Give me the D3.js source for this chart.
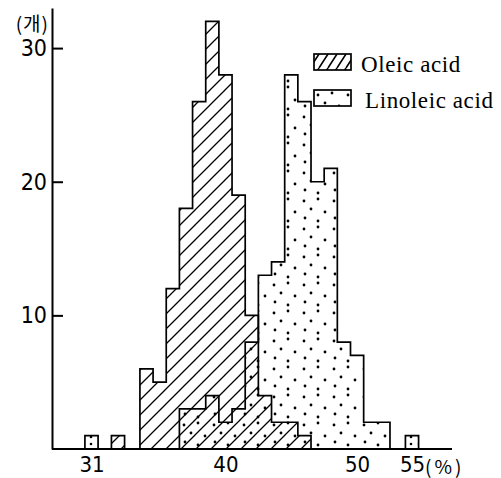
<!DOCTYPE html>
<html>
<head>
<meta charset="utf-8">
<script src="https://cdn.jsdelivr.net/npm/d3@7"></script>
<style>
  body { margin: 0; background: #fff; }
  svg { display: block; }
</style>
</head>
<body>
<script>
(function(){

  //pseudo-global variables
  //oleic acid histogram: bin centre (%) and number of samples
  var oleicBins = [34, 35, 36, 37, 38, 39, 40, 41, 42, 43, 44, 45, 46];
  var oleicCounts = [6, 5, 12, 18, 26, 32, 28, 19, 10, 4, 2, 2, 1];
  var oleicOutBins = [32]; //lone sample left of the main group
  var oleicOutCounts = [1];

  //linoleic acid histogram
  var linoleicBins = [37, 38, 39, 40, 41, 42, 43, 44, 45, 46, 47, 48, 49, 50, 51, 52];
  var linoleicCounts = [3, 3, 4, 2, 3, 8, 13, 14, 28, 26, 20, 21, 8, 7, 2, 2];
  var linoleicOutBins = [31, 55];
  var linoleicOutCounts = [1, 1];

  var xTicks = [31, 40, 50, 55]; //tick labels on the broken % axis
  var yTicks = [10, 20, 30];
  var seriesNames = ["Oleic acid", "Linoleic acid"];

  window.onload = setChart(); //begin script when window loads

  function setChart(){
    var width = 501,
        height = 478,
        left = 52, //y axis position
        right = 452, //end of baseline
        top = 8,
        bottom = 449;

    var svg = d3.select("body")
      .append("svg")
      .attr("width", width)
      .attr("height", height);

    //x axis is broken at both ends, so use a piecewise linear scale
    var x = d3.scaleLinear()
      .domain([31, 32, 34, 52, 55])
      .range([91.5, 118, 146.5, 383.4, 412]);

    var y = d3.scaleLinear()
      .domain([0, 33])
      .range([bottom, top]);

    var bw = x(35) - x(34); //width of one 1% bin

    makePatterns(svg);

    //build a stepped outline for a run of adjacent bins
    function stepPath(bins, counts){
      var p = d3.path();
      p.moveTo(x(bins[0]) - bw / 2, y(0));
      bins.forEach(function(b, i){
        p.lineTo(x(b) - bw / 2, y(counts[i]));
        p.lineTo(x(b) + bw / 2, y(counts[i]));
      });
      p.lineTo(x(bins[bins.length - 1]) + bw / 2, y(0));
      p.closePath();
      return p.toString();
    };

    var shapes = [
      {bins: oleicBins, counts: oleicCounts, fill: "url(#hatch)"},
      {bins: oleicOutBins, counts: oleicOutCounts, fill: "url(#hatch)"}
    ];
    linoleicOutBins.forEach(function(b, i){
      shapes.push({bins: [b], counts: [linoleicOutCounts[i]], fill: "url(#dotsSmall)"});
    });
    shapes.push({bins: linoleicBins, counts: linoleicCounts, fill: "url(#dots)"});

    //pattern fills first, outlines on top so both stay visible where they overlap
    svg.selectAll(".fill")
      .data(shapes)
      .enter()
      .append("path")
      .attr("class", "fill")
      .attr("d", function(d){ return stepPath(d.bins, d.counts); })
      .style("fill", function(d){ return d.fill; })
      .style("stroke", "none");

    svg.selectAll(".outline")
      .data(shapes)
      .enter()
      .append("path")
      .attr("class", "outline")
      .attr("d", function(d){ return stepPath(d.bins, d.counts); })
      .style("fill", "none")
      .style("stroke", "#000")
      .style("stroke-width", 1.7)
      .style("stroke-linejoin", "miter");

    //baseline
    svg.append("line")
      .attr("x1", left)
      .attr("x2", right)
      .attr("y1", y(0))
      .attr("y2", y(0))
      .style("stroke", "#000")
      .style("stroke-width", 2);

    //y axis, ticks pointing into the plot
    var yAxis = d3.axisLeft(y)
      .tickValues(yTicks)
      .tickSize(-11)
      .tickSizeOuter(0)
      .tickPadding(5);

    var gy = svg.append("g")
      .attr("transform", "translate(" + left + ",0)")
      .call(yAxis);
    gy.select(".domain").style("stroke-width", 2);
    gy.selectAll(".tick line").style("stroke-width", 2);
    gy.selectAll("text")
      .style("font-family", "'Liberation Sans Narrow', 'DejaVu Sans Condensed', sans-serif")
      .style("font-size", "23px")
      .style("fill", "#000");

    //x axis labels only, no ticks
    var xAxis = d3.axisBottom(x)
      .tickValues(xTicks)
      .tickSize(0)
      .tickPadding(7);

    var gx = svg.append("g")
      .attr("transform", "translate(0," + y(0) + ")")
      .call(xAxis);
    gx.select(".domain").remove();
    gx.selectAll("text")
      .style("font-family", "'Liberation Sans Narrow', 'DejaVu Sans Condensed', sans-serif")
      .style("font-size", "22px")
      .style("fill", "#000");

    //units
    svg.append("text")
      .attr("x", x(55) + 13)
      .attr("y", y(0) + 25)
      .style("font-family", "'Noto Sans CJK KR', sans-serif")
      .style("font-size", "19px")
      .style("letter-spacing", "3px")
      .text("(%)");

    svg.append("text")
      .attr("x", 49)
      .attr("y", 31)
      .attr("text-anchor", "end")
      .style("font-family", "'Noto Sans CJK KR', sans-serif")
      .style("font-size", "19px")
      .style("letter-spacing", "1px")
      .text("(개)");

    setLegend(svg);
  };

  //hatched and dotted fills
  function makePatterns(svg){
    var defs = svg.append("defs");

    var hatch = defs.append("pattern")
      .attr("id", "hatch")
      .attr("patternUnits", "userSpaceOnUse")
      .attr("width", 15)
      .attr("height", 15);
    hatch.append("path")
      .attr("d", "M-4,4 L4,-4 M0,15 L15,0 M11,19 L19,11")
      .style("stroke", "#000")
      .style("stroke-width", 1.3);

    var hatchSmall = defs.append("pattern")
      .attr("id", "hatchSmall")
      .attr("patternUnits", "userSpaceOnUse")
      .attr("width", 9)
      .attr("height", 14);
    hatchSmall.append("path")
      .attr("d", "M-4,14 L5,0 M5,14 L14,0")
      .style("stroke", "#000")
      .style("stroke-width", 1.6);

    var dotSpots = [[4, 5], [18, 3], [11, 13], [25, 16], [5, 22], [18, 25]];
    var dots = defs.append("pattern")
      .attr("id", "dots")
      .attr("patternUnits", "userSpaceOnUse")
      .attr("width", 30)
      .attr("height", 28);
    dots.selectAll("circle")
      .data(dotSpots)
      .enter()
      .append("circle")
      .attr("cx", function(d){ return d[0]; })
      .attr("cy", function(d){ return d[1]; })
      .attr("r", 1.4)
      .style("fill", "#000");

    //tighter dots for the tiny boxes
    var dotsSmall = defs.append("pattern")
      .attr("id", "dotsSmall")
      .attr("patternUnits", "userSpaceOnUse")
      .attr("width", 8)
      .attr("height", 7);
    dotsSmall.append("circle")
      .attr("cx", 3)
      .attr("cy", 3)
      .attr("r", 1.3)
      .style("fill", "#000");
  };

  function setLegend(svg){
    var legend = svg.append("g")
      .attr("class", "legend");

    var items = legend.selectAll("g")
      .data(seriesNames)
      .enter()
      .append("g")
      .attr("transform", function(d, i){
        return "translate(314," + (54 + i * 36) + ")";
      });

    items.append("rect")
      .attr("width", 37)
      .attr("height", 16)
      .style("fill", function(d, i){ return i == 0 ? "url(#hatchSmall)" : "url(#dots)"; })
      .style("stroke", "#000")
      .style("stroke-width", 1.7);

    items.append("text")
      .attr("x", function(d, i){ return i == 0 ? 47 : 51; })
      .attr("y", 18)
      .style("font-family", "'Liberation Serif', serif")
      .style("font-size", "23px")
      .style("letter-spacing", "0.6px")
      .style("fill", "#000")
      .text(function(d){ return d; });
  };
})();
</script>
</body>
</html>
